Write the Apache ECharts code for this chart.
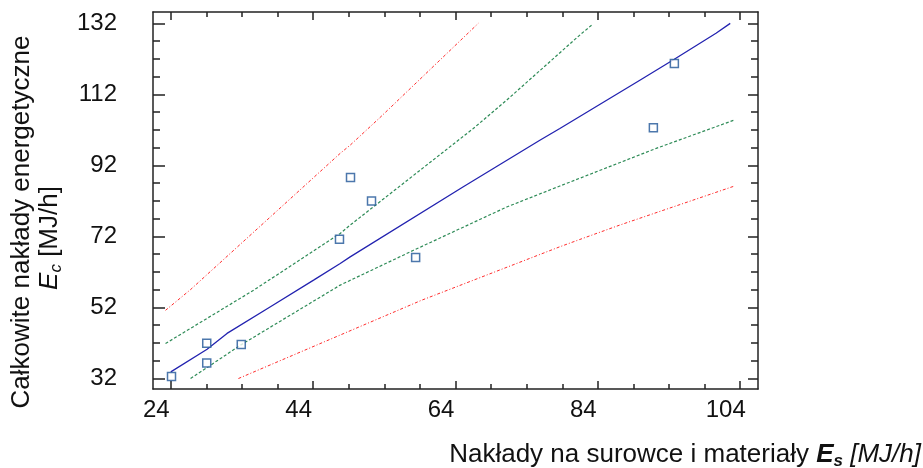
<!DOCTYPE html>
<html>
<head>
<meta charset="utf-8">
<script src="https://cdn.jsdelivr.net/npm/echarts@6/dist/echarts.min.js"></script>
<style>
html,body{margin:0;padding:0;background:#fff;}
#c{width:923px;height:468px;}
</style>
</head>
<body>
<div id="c"></div>
<script>
// ---- data ----
var pointsX = [24.1, 29.05, 29.05, 33.9, 47.7, 49.25, 52.2, 58.4, 91.8, 94.75];
var pointsY = [32.6, 41.9, 36.4, 41.6, 71.2, 88.6, 82.0, 66.1, 102.6, 120.7];

var fitLine = [[24.0,33.86],[29.1,40.25],[31.9,44.7],[38.0,52.2],[44.06,59.7],[47.8,64.4],[49.2,66.25],[65.1,86.0],[75.85,99.1],[78.66,102.4],[89.9,116.0],[94.74,121.9],[100.6,129.2],[102.6,132.0]];
var confUpper = [[23.26,41.86],[35.64,56.87],[47.8,72.85],[49.2,75.2],[66.5,102.4],[71.2,110.4],[81.46,128.7],[83.3,131.8]];
var confLower = [[26.78,32.0],[33.8,41.4],[47.8,58.3],[58.1,68.1],[71.2,80.3],[78.66,86.2],[92.2,96.8],[103.2,104.8]];
var predUpper = [[23.26,51.2],[26.79,57.07],[47.8,95.4],[49.2,97.7],[53.4,105.5],[67.2,132.0]];
var predLower = [[33.5,32.0],[59.26,54.06],[78.66,69.1],[81.46,71.15],[87.07,75.2],[103.2,86.2]];

var xMajor = [24, 44, 64, 84, 104];
var xMinor = [29, 34, 39, 49, 54, 59, 69, 74, 79, 89, 94, 99];
var yMajor = [32, 52, 72, 92, 112, 132];
var yMinor = [37, 42, 47, 57, 62, 67, 77, 82, 87, 97, 102, 107, 117, 122, 127];

var xRange = [21.5, 106.5];
var yRange = [29.05, 135.2];

// ---- chart ----
var FONT = 'Liberation Sans, Arial, sans-serif';
var AXC = '#222';
function xAx(pos, ticks, len, showLine, showLabel) {
  return {
    type: 'value', position: pos, min: xRange[0], max: xRange[1],
    axisLine: {show: showLine, onZero: false, lineStyle: {color: AXC, width: 1.5}},
    axisTick: {show: true, inside: true, length: len, customValues: ticks, lineStyle: {color: AXC, width: 1.5}},
    axisLabel: {show: showLabel, customValues: ticks, margin: 9, color: '#111', fontSize: 24, fontFamily: FONT,
      padding: [0, 29, 0, 0]},
    splitLine: {show: false}
  };
}
function yAx(pos, ticks, len, showLine, showLabel) {
  return {
    type: 'value', position: pos, min: yRange[0], max: yRange[1],
    axisLine: {show: showLine, onZero: false, lineStyle: {color: AXC, width: 1.5}},
    axisTick: {show: true, inside: true, length: len, customValues: ticks, lineStyle: {color: AXC, width: 1.5}},
    axisLabel: {show: showLabel, customValues: ticks, margin: 36, color: '#111', fontSize: 24, fontFamily: FONT,
      padding: [5, 0, 0, 0]},
    splitLine: {show: false}
  };
}

var chart = echarts.init(document.getElementById('c'), null, {renderer: 'canvas'});
var scatterData = pointsX.map(function (x, i) { return [x, pointsY[i]]; });

function lineSeries(data, color, type, width) {
  return {
    type: 'line', data: data, showSymbol: false, symbol: 'none', smooth: false,
    xAxisIndex: 0, yAxisIndex: 0, z: 2, silent: true,
    lineStyle: {color: color, width: width, type: type}
  };
}

chart.setOption({
  animation: false,
  backgroundColor: '#fff',
  grid: {left: 153, right: 165, top: 12, bottom: 79, containLabel: false},
  xAxis: [
    xAx('bottom', xMajor, 8, true, true),
    xAx('bottom', xMinor, 5, false, false),
    xAx('top', xMajor, 8, true, false),
    xAx('top', xMinor, 5, false, false)
  ],
  yAxis: [
    yAx('left', yMajor, 12, true, true),
    yAx('left', yMinor, 7, false, false),
    yAx('right', yMajor, 10, true, false),
    yAx('right', yMinor, 7, false, false)
  ],
  series: [
    lineSeries(predUpper, '#ff2a2a', [3, 2, 1, 2], 1),
    lineSeries(predLower, '#ff2a2a', [3, 2, 1, 2], 1),
    lineSeries(confUpper, '#2e8b57', [3, 2], 1.2),
    lineSeries(confLower, '#2e8b57', [3, 2], 1.2),
    lineSeries(fitLine, '#2323b0', 'solid', 1.3),
    {
      type: 'scatter', data: scatterData, xAxisIndex: 0, yAxisIndex: 0, z: 5,
      symbol: 'rect', symbolSize: 8,
      itemStyle: {color: '#ffffff', borderColor: '#1f5597', borderWidth: 1.5}
    }
  ],
  graphic: [
    {
      type: 'text', right: 2, top: 442,
      style: {
        text: '{n|Nakłady na surowce i materiały }{e|E}{s|s}{i| [MJ/h]}',
        rich: {
          n: {fontSize: 26, fontFamily: FONT, fill: '#111'},
          e: {fontSize: 26, fontFamily: FONT, fontStyle: 'italic', fontWeight: 'bold', fill: '#111'},
          s: {fontSize: 17, fontFamily: FONT, fontStyle: 'italic', fontWeight: 'bold', fill: '#111', padding: [12, 0, 0, 0]},
          i: {fontSize: 26, fontFamily: FONT, fontStyle: 'italic', fill: '#111'}
        }
      }
    },
    {
      type: 'text', x: 22, y: 222, rotation: Math.PI / 2,
      style: {
        text: 'Całkowite nakłady energetyczne', fontSize: 26, fontFamily: FONT, fill: '#111',
        align: 'center', verticalAlign: 'middle'
      }
    },
    {
      type: 'text', x: 50, y: 238, rotation: Math.PI / 2,
      style: {
        text: '{e|E}{s|c}{n| [MJ/h]}',
        align: 'center', verticalAlign: 'middle',
        rich: {
          e: {fontSize: 26, fontFamily: FONT, fontStyle: 'italic', fill: '#111'},
          s: {fontSize: 17, fontFamily: FONT, fontStyle: 'italic', fill: '#111', padding: [12, 0, 0, 0]},
          n: {fontSize: 26, fontFamily: FONT, fill: '#111'}
        }
      }
    }
  ]
});
</script>
</body>
</html>
